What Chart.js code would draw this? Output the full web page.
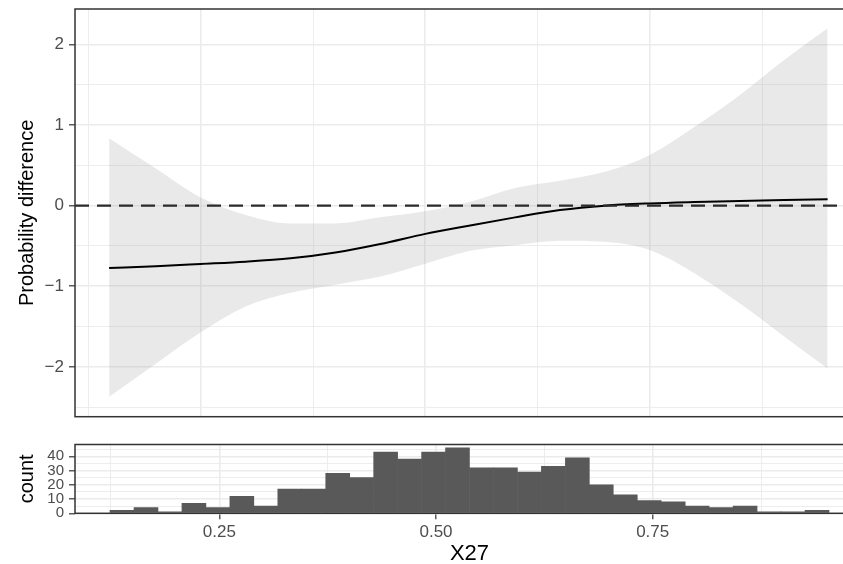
<!DOCTYPE html>
<html>
<head>
<meta charset="utf-8">
<script src="https://cdn.jsdelivr.net/npm/chart.js@4.4.1/dist/chart.umd.min.js"></script>
<style>
  html, body { margin: 0; padding: 0; background: #fff; overflow: hidden; }
  #wrap { position: relative; width: 843px; height: 564px; overflow: hidden; }
  canvas { position: absolute; left: 0; }
  #smoothChart { top: 0; }
  #histChart { top: 420px; }
</style>
</head>
<body>
<div id="wrap">
  <canvas id="smoothChart" width="900" height="420"></canvas>
  <canvas id="histChart" width="900" height="147"></canvas>
</div>
<script>
// smooth fit (top panel)
const xSmooth = [0.148, 0.2, 0.25, 0.3, 0.35, 0.4, 0.45, 0.5, 0.55, 0.6, 0.65, 0.7, 0.75, 0.8, 0.85, 0.9, 0.948];
const fitY = [-0.773, -0.75, -0.723, -0.695, -0.653, -0.58, -0.475, -0.35, -0.245, -0.145, -0.055, 0.0, 0.028, 0.045, 0.058, 0.07, 0.08];
const upperY = [0.836, 0.46, 0.1, -0.115, -0.22, -0.22, -0.145, -0.07, 0.05, 0.22, 0.31, 0.42, 0.63, 0.98, 1.37, 1.81, 2.2];
const lowerY = [-2.37, -1.96, -1.57, -1.25, -1.08, -0.98, -0.88, -0.72, -0.56, -0.49, -0.434, -0.446, -0.55, -0.84, -1.21, -1.625, -2.02];

// histogram (bottom panel), 30 bins
const binCenters = [0.1377, 0.1654, 0.1930, 0.2207, 0.2483, 0.2760, 0.3036, 0.3313, 0.3589, 0.3866,
  0.4142, 0.4419, 0.4695, 0.4972, 0.5248, 0.5525, 0.5801, 0.6078, 0.6354, 0.6631,
  0.6907, 0.7184, 0.7460, 0.7737, 0.8013, 0.8290, 0.8566, 0.8843, 0.9119, 0.9396];
const binCounts = [2, 4, 1, 7, 4, 12, 5, 17, 17, 28, 25, 43, 38, 43, 46, 32, 32, 29, 33, 39,
  20, 13, 9, 8, 5, 4, 5, 1, 1, 2];

// axes
const xGrid = [0.125, 0.25, 0.375, 0.5, 0.625, 0.75, 0.875];
const xMajor = [0.25, 0.5, 0.75];
const xTickLabels = ["0.25", "0.50", "0.75"];
const diffGrid = [-2.5, -2, -1.5, -1, -0.5, 0, 0.5, 1, 1.5, 2];
const diffMajor = [-2, -1, 0, 1, 2];
const diffTickLabels = ["\u22122", "\u22121", "0", "1", "2"];
const countGrid = [0, 5, 10, 15, 20, 25, 30, 35, 40, 45];
const countMajor = [0, 10, 20, 30, 40];
const countTickLabels = ["0", "10", "20", "30", "40"];

const xTopRange = [0.110, 0.9885];
const xBottomRange = [0.0835, 0.9938];
const diffRange = [-2.618, 2.44];
const countRange = [0, 48.3];

const FONT = "'Liberation Sans', Arial, Helvetica, sans-serif";
const GRID = "#ebebeb";

const frame = {
  id: "frame",
  afterDraw(chart) {
    const { ctx, chartArea: a } = chart;
    ctx.save();
    ctx.strokeStyle = "#333";
    ctx.lineWidth = 1.5;
    ctx.strokeRect(a.left, a.top, a.right - a.left, a.bottom - a.top);
    ctx.restore();
  },
};

function noPad(axis) {
  axis.paddingTop = 0;
  axis.paddingBottom = 0;
  axis.paddingLeft = 0;
  axis.paddingRight = 0;
}

function axisCfg(range, gridVals, major, labels, opts) {
  const isMajor = (ctx) => ctx.tick && major.includes(ctx.tick.value);
  return {
    type: "linear",
    min: range[0],
    max: range[1],
    offset: false,
    border: { display: false },
    grid: {
      offset: false,
      color: GRID,
      lineWidth: (ctx) => (isMajor(ctx) ? 1.6 : 0.9),
      drawTicks: opts.drawTicks,
      tickLength: 6,
      tickWidth: 1.2,
      tickColor: (ctx) => (isMajor(ctx) ? "#333" : "rgba(0,0,0,0)"),
    },
    ticks: {
      display: opts.showLabels,
      autoSkip: false,
      padding: opts.padding,
      color: "#4d4d4d",
      font: { family: FONT, size: opts.fontSize },
      callback: (value) => {
        const i = major.indexOf(value);
        return i < 0 ? "" : labels[i];
      },
    },
    title: opts.title,
    afterBuildTicks: (axis) => {
      axis.ticks = gridVals.map((v) => ({ value: v }));
    },
    afterFit: (axis) => {
      noPad(axis);
      if (opts.width != null) axis.width = opts.width;
      if (opts.height != null) axis.height = opts.height;
    },
  };
}

const yTitle = (text) => ({
  display: true,
  text: text,
  color: "#000",
  font: { family: FONT, size: 20 },
  padding: { top: 15, bottom: 0 },
});

new Chart(document.getElementById("smoothChart"), {
  type: "line",
  data: {
    datasets: [
      {
        label: "zero",
        data: [{ x: xTopRange[0], y: 0 }, { x: xTopRange[1], y: 0 }],
        borderColor: "#2b2b2b",
        borderWidth: 2.2,
        borderDash: [14, 8],
        pointRadius: 0,
        tension: 0,
        order: 0,
      },
      {
        label: "fit",
        data: xSmooth.map((x, i) => ({ x: x, y: fitY[i] })),
        borderColor: "#000",
        borderWidth: 2,
        pointRadius: 0,
        cubicInterpolationMode: "monotone",
        order: 1,
      },
      {
        label: "upper",
        data: xSmooth.map((x, i) => ({ x: x, y: upperY[i] })),
        borderColor: "rgba(0,0,0,0)",
        borderWidth: 0,
        pointRadius: 0,
        cubicInterpolationMode: "monotone",
        fill: "+1",
        backgroundColor: "rgba(153,153,153,0.22)",
        order: 2,
      },
      {
        label: "lower",
        data: xSmooth.map((x, i) => ({ x: x, y: lowerY[i] })),
        borderColor: "rgba(0,0,0,0)",
        borderWidth: 0,
        pointRadius: 0,
        cubicInterpolationMode: "monotone",
        fill: false,
        order: 3,
      },
    ],
  },
  options: {
    responsive: false,
    animation: false,
    devicePixelRatio: 1,
    layout: { padding: { top: 9, right: 36, bottom: 3.3, left: 0 } },
    plugins: { legend: { display: false }, tooltip: { enabled: false } },
    scales: {
      x: axisCfg(xTopRange, xGrid, xMajor, xTickLabels, {
        drawTicks: false, showLabels: false, padding: 0, fontSize: 17,
        title: { display: false }, height: 0,
      }),
      y: axisCfg(diffRange, diffGrid, diffMajor, diffTickLabels, {
        drawTicks: true, showLabels: true, padding: 5, fontSize: 17,
        title: yTitle("Probability difference"), width: 75,
      }),
    },
  },
  plugins: [frame],
});

new Chart(document.getElementById("histChart"), {
  type: "bar",
  data: {
    datasets: [
      {
        label: "count",
        data: binCenters.map((x, i) => ({ x: x, y: binCounts[i] })),
        backgroundColor: "#595959",
        borderWidth: 0,
        barPercentage: 1,
        categoryPercentage: 1,
      },
    ],
  },
  options: {
    responsive: false,
    animation: false,
    devicePixelRatio: 1,
    layout: { padding: { top: 24.5, right: 36, bottom: 0, left: 0 } },
    plugins: { legend: { display: false }, tooltip: { enabled: false } },
    scales: {
      x: axisCfg(xBottomRange, xGrid, xMajor, xTickLabels, {
        drawTicks: true, showLabels: true, padding: 3, fontSize: 17,
        title: {
          display: true,
          text: "X27",
          color: "#000",
          font: { family: FONT, size: 22 },
          padding: { top: 0, bottom: 0 },
        },
        height: 53.7,
      }),
      y: axisCfg(countRange, countGrid, countMajor, countTickLabels, {
        drawTicks: true, showLabels: true, padding: 5, fontSize: 15,
        title: yTitle("count"), width: 75,
      }),
    },
  },
  plugins: [frame],
});
</script>
</body>
</html>
